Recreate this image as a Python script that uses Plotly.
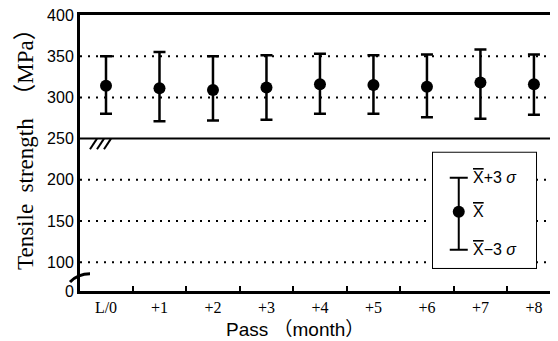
import plotly.graph_objects as go

# ---- data ----
categories = ["L/0", "+1", "+2", "+3", "+4", "+5", "+6", "+7", "+8"]
mean_ts = [314, 311, 309, 312, 316, 315, 313, 318, 316]
upper_ts = [350, 355, 350, 351, 353, 351, 352, 358, 352]   # X̄+3σ
lower_ts = [280, 271, 272, 273, 280, 280, 276, 274, 279]   # X̄-3σ
ytick_vals = [65, 100, 150, 200, 250, 300, 350, 400]
ytick_text = ["0", "100", "150", "200", "250", "300", "350", "400"]
grid_vals = [100, 150, 200, 300, 350]
break_val = 250

OV = '<span style="text-decoration:overline">X</span>'
legend_labels = [OV + "+3\u00a0<i>\u03c3</i>", OV, OV + "\u22123\u00a0<i>\u03c3</i>"]
y_title = "Tensile\u00a0\u00a0strength\u00a0\u00a0（MPa）"
x_title = "Pass （month）"

xpos = list(range(len(categories)))
err_plus = [u - m for u, m in zip(upper_ts, mean_ts)]
err_minus = [m - l for m, l in zip(mean_ts, lower_ts)]

fig = go.Figure()
fig.add_trace(go.Scatter(
    x=xpos, y=mean_ts, mode="markers",
    marker=dict(color="black", size=12),
    error_y=dict(type="data", array=err_plus, arrayminus=err_minus,
                 color="black", thickness=2.5, width=6),
    showlegend=False, hoverinfo="skip"))

# legend key sample (in its own small axis inside the box)
fig.add_trace(go.Scatter(
    x=[0.25], y=[0.487], mode="markers",
    marker=dict(color="black", size=12),
    error_y=dict(type="data", array=[0.296], arrayminus=[0.33],
                 color="black", thickness=2, width=9),
    xaxis="x2", yaxis="y2", showlegend=False, hoverinfo="skip"))

box_x0, box_x1, box_y0, box_y1 = 0.7385, 0.954, 0.0835, 0.501
PW = 478.0  # plot width in px
PH = 276.0  # plot height in px

fig.update_layout(
    width=550, height=333,
    margin=dict(l=72, r=0, t=7, b=50),
    plot_bgcolor="white", paper_bgcolor="white",
    xaxis=dict(range=[-0.486, 8.45], tickvals=xpos, ticktext=categories,
               ticks="", showgrid=False, zeroline=False,
               showline=True, linecolor="black", linewidth=3, mirror=True,
               tickfont=dict(family="Liberation Serif", size=16, color="black"),
               ticklabeloverflow="allow",
               minor=dict(tickvals=[i + 0.5 for i in xpos[:-1]], ticks="inside",
                          ticklen=5, tickwidth=2, tickcolor="black")),
    yaxis=dict(range=[65, 400], tickvals=ytick_vals, ticktext=ytick_text,
               ticks="", showgrid=False, zeroline=False,
               showline=True, linecolor="black", linewidth=3,
               ticklabeloverflow="allow",
               tickfont=dict(family="Liberation Sans", size=16, color="black")),
    xaxis2=dict(domain=[box_x0, box_x1], range=[0, 1], visible=False, anchor="y2"),
    yaxis2=dict(domain=[box_y0, box_y1], range=[0, 1], visible=False, anchor="x2"),
)

shapes = []
for g in grid_vals:
    shapes.append(dict(type="line", xref="paper", x0=0, x1=1, yref="y", y0=g, y1=g,
                       line=dict(color="black", width=2, dash="2px,6px"), layer="below"))
shapes.append(dict(type="line", xref="paper", x0=0, x1=1, yref="y", y0=break_val, y1=break_val,
                   line=dict(color="black", width=2)))
# break slashes under the 250 line
for k in range(3):
    px0 = 10 + 7 * k
    shapes.append(dict(type="line", xref="paper", yref="y",
                       x0=px0 / PW, x1=(px0 + 7) / PW, y0=237, y1=250,
                       line=dict(color="black", width=2)))
# axis break mark near 0
shapes.append(dict(type="path", xref="paper", yref="y",
                   path="M %f,76 Q %f,86 %f,86" % (-10 / PW, -2 / PW, 10 / PW),
                   line=dict(color="black", width=3)))
# legend box (white fill, hides grid, below traces)
shapes.append(dict(type="rect", xref="paper", yref="paper", x0=box_x0, x1=box_x1, y0=box_y0, y1=box_y1,
                   fillcolor="white", line=dict(color="black", width=2), layer="below"))
fig.update_layout(shapes=shapes)

ann_y = [0.783, 0.487, 0.157]
for t, yy in zip(legend_labels, ann_y):
    fig.add_annotation(x=0.37, y=yy, xref="x2", yref="y2", text=t, showarrow=False,
                       xanchor="left", yanchor="middle",
                       font=dict(family="Liberation Sans", size=16, color="black"))

# axis titles as annotations (positioned as in the original)
fig.add_annotation(x=(295 - 80) / PW, y=-(321 - 283) / PH, xref="paper", yref="paper",
                   text=x_title, showarrow=False, xanchor="center", yanchor="middle",
                   font=dict(family="Liberation Sans, Noto Sans CJK JP", size=19, color="black"))
fig.add_annotation(x=(17 - 72) / PW, y=(283 - 136) / PH, xref="paper", yref="paper",
                   text=y_title, showarrow=False, textangle=-90,
                   xanchor="center", yanchor="middle",
                   font=dict(family="Liberation Serif, Noto Sans CJK JP", size=23, color="black"))

fig.write_html("out.html")
